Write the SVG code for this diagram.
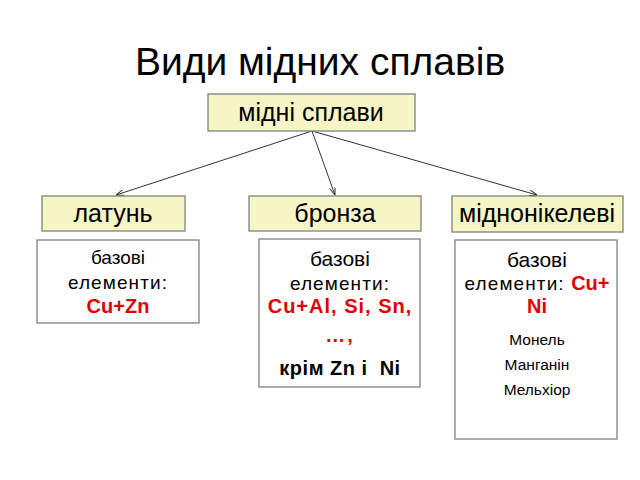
<svg xmlns="http://www.w3.org/2000/svg" width="640" height="480" viewBox="0 0 640 480">
<defs>
<marker id="ah" markerWidth="8" markerHeight="6" refX="8" refY="3" orient="auto" markerUnits="userSpaceOnUse">
<path d="M0,0 L8,3 L0,6" fill="none" stroke="#333" stroke-width="1"/>
</marker>
<style>
text{font-family:"Liberation Sans",Arial,sans-serif;fill:#000;text-anchor:middle;white-space:pre}
.hd{fill:#f5f5c6;stroke:#808080;stroke-width:1.3}
.bx{fill:#fff;stroke:#808080;stroke-width:1.3}
.h{font-size:25px}
.t{font-size:19px}
.l{font-size:21px}
.e{letter-spacing:1.1px}
.r{fill:#e00000;font-weight:bold;font-size:20px;letter-spacing:0}
.b{font-weight:bold;font-size:20px;letter-spacing:0.5px}
.s{font-size:15.5px}
.c{stroke:#333;stroke-width:1;fill:none;marker-end:url(#ah)}
</style>
</defs>
<rect width="640" height="480" fill="#fff"/>
<text x="320" y="75" style="font-size:39px">Види мідних сплавів</text>
<g id="connectors">
<line class="c" x1="312" y1="131" x2="116" y2="195"/>
<line class="c" x1="312" y1="131" x2="335" y2="195"/>
<line class="c" x1="312" y1="131" x2="537" y2="195"/>
</g>
<g id="root">
<rect class="hd" x="208" y="94" width="207" height="37"/>
<text class="h" x="311" y="121">мідні сплави</text>
</g>
<g id="latun">
<rect class="hd" x="42" y="196" width="143" height="35"/>
<text class="h" x="113" y="222">латунь</text>
</g>
<g id="bronza">
<rect class="hd" x="249" y="196" width="172" height="35"/>
<text class="h" x="335" y="222">бронза</text>
</g>
<g id="midnonikelevi">
<rect class="hd" x="452" y="196" width="171" height="36"/>
<text class="h" x="537" y="222">міднонікелеві</text>
</g>
<g id="latun-el">
<rect class="bx" x="37" y="240" width="162" height="83"/>
<text class="t" x="118" y="264">базові</text>
<text class="t e" x="118" y="289">елементи:</text>
<text class="t r" x="118" y="313">Cu+Zn</text>
</g>
<g id="bronza-el">
<rect class="bx" x="259" y="239" width="161" height="148"/>
<text class="l" x="340" y="266">базові</text>
<text class="t e" x="340" y="290">елементи:</text>
<text class="t r" x="340" y="313" style="letter-spacing:1px">Cu+Al, Si, Sn,</text>
<text class="t r" x="340" y="342" style="letter-spacing:2px">…,</text>
<text class="t b" x="340" y="375">крім Zn і  Ni</text>
</g>
<g id="midnonikelevi-el">
<rect class="bx" x="455" y="240" width="162" height="199"/>
<text class="l" x="537" y="267">базові</text>
<text class="t e" x="537" y="290">елементи: <tspan class="r">Cu+</tspan></text>
<text class="t r" x="537" y="313">Ni</text>
<text class="s" x="537" y="345">Монель</text>
<text class="s" x="537" y="370">Манганін</text>
<text class="s" x="537" y="395">Мельхіор</text>
</g>
</svg>
